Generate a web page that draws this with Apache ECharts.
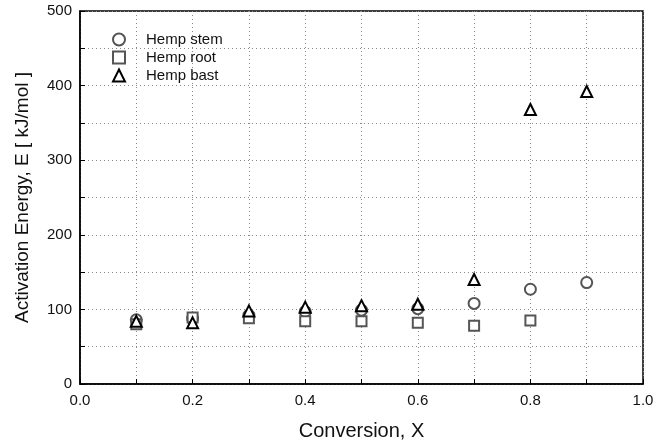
<!DOCTYPE html>
<html>
<head>
<meta charset="utf-8">
<script src="https://cdn.jsdelivr.net/npm/echarts@6/dist/echarts.min.js"></script>
<style>html,body{margin:0;padding:0;background:#fff}#c{width:671px;height:446px}</style>
</head>
<body>
<div id="c"></div>
<script>
var conversion = [0.1, 0.2, 0.3, 0.4, 0.5, 0.6, 0.7, 0.8, 0.9];
var hempStem = [86, 88, 92, 97, 99, 101, 108, 127, 136];
var hempRoot = [80, 89, 88, 84, 84, 82, 78, 85];
var hempBast = [84, 82, 98, 103, 105, 107, 140, 368, 392];

function pairs(xs, ys) { return ys.map(function (y, i) { return [xs[i], y]; }); }

var chart = echarts.init(document.getElementById('c'));
var font = 'Liberation Sans, Arial, sans-serif';
chart.setOption({
  animation: false,
  grid: { left: 80, right: 28, top: 11, bottom: 62, show: true, borderColor: '#000', borderWidth: 1.5 },
  legend: {
    orient: 'vertical', left: 107, top: 27, itemGap: 3, itemWidth: 12, itemHeight: 12,
    textStyle: { fontFamily: font, fontSize: 15, color: '#111', padding: [0, 0, 0, 16] },
    data: ['Hemp stem', 'Hemp root', 'Hemp bast']
  },
  xAxis: {
    type: 'value', min: 0, max: 1, interval: 0.1,
    name: 'Conversion, X', nameLocation: 'middle', nameGap: 37,
    nameTextStyle: { fontFamily: font, fontSize: 20, color: '#111' },
    axisLine: { lineStyle: { color: '#000', width: 1.5 } },
    axisTick: { inside: true, length: 5, lineStyle: { color: '#000' } },
    axisLabel: { fontFamily: font, fontSize: 15, color: '#111', margin: 9,
      formatter: function (v) { return Math.round(v * 10) % 2 === 0 ? v.toFixed(1) : ''; } },
    splitLine: { show: true, lineStyle: { color: '#888', type: [1, 3], width: 1 } }
  },
  yAxis: {
    type: 'value', min: 0, max: 500, interval: 50,
    name: 'Activation Energy, E [ kJ/mol ]', nameLocation: 'middle', nameGap: 48,
    nameTextStyle: { fontFamily: font, fontSize: 19, color: '#111' },
    axisLine: { show: true, lineStyle: { color: '#000', width: 1.5 } },
    axisTick: { show: true, inside: true, length: 5, lineStyle: { color: '#000' } },
    axisLabel: { fontFamily: font, fontSize: 15, color: '#111', margin: 8,
      formatter: function (v) { return v % 100 === 0 ? String(v) : ''; } },
    splitLine: { show: true, lineStyle: { color: '#888', type: [1, 3], width: 1 } }
  },
  series: [
    { name: 'Hemp stem', type: 'scatter', symbol: 'circle', symbolSize: 11,
      itemStyle: { color: '#fff', borderColor: '#555', borderWidth: 2, opacity: 1 },
      data: pairs(conversion, hempStem) },
    { name: 'Hemp root', type: 'scatter', symbol: 'rect', symbolSize: 10,
      itemStyle: { color: '#fff', borderColor: '#555', borderWidth: 2, opacity: 1 },
      data: pairs(conversion, hempRoot) },
    { name: 'Hemp bast', type: 'scatter', symbol: 'triangle', symbolSize: 11,
      itemStyle: { color: '#fff', borderColor: '#000', borderWidth: 2, opacity: 1 },
      data: pairs(conversion, hempBast) }
  ]
});
</script>
</body>
</html>
